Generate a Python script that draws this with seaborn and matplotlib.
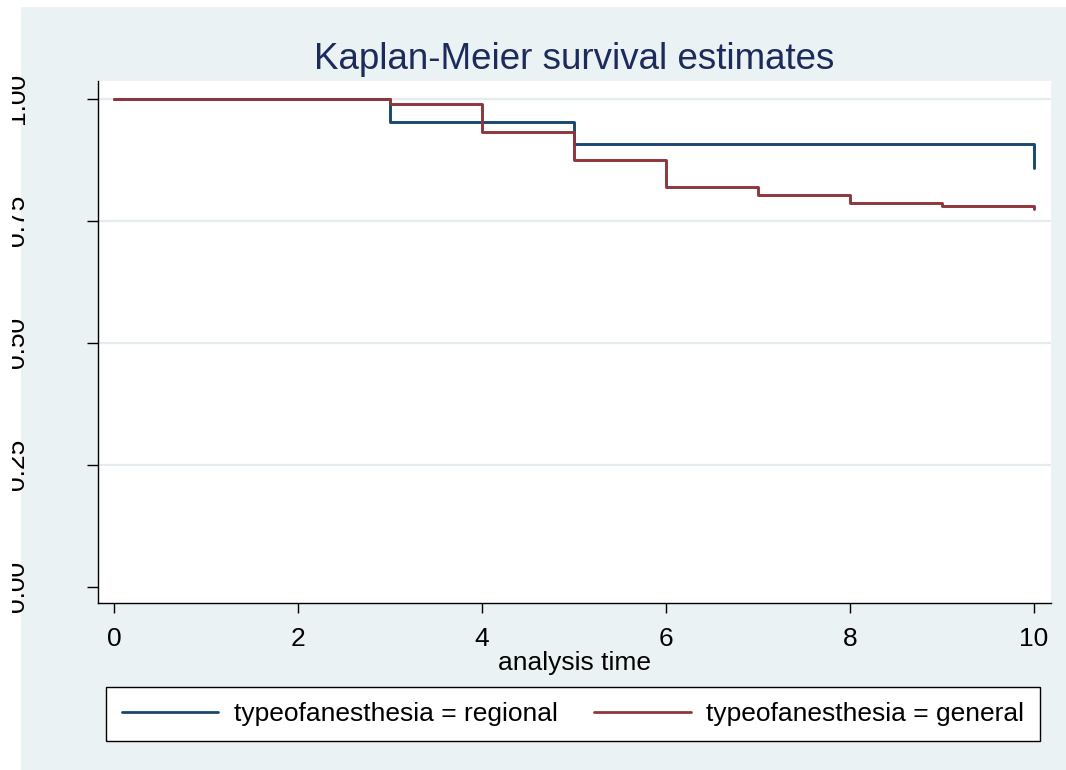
import matplotlib
matplotlib.use("Agg")
import matplotlib.pyplot as plt
from matplotlib.patches import Rectangle
import seaborn as sns
import pandas as pd

# ---- data ----
regional_time = [0, 3, 5, 10]
regional_surv = [1.000, 0.953, 0.906, 0.857]
general_time = [0, 3, 4, 5, 6, 7, 8, 9, 10]
general_surv = [1.000, 0.988, 0.931, 0.875, 0.818, 0.803, 0.786, 0.781, 0.773]
groups = ["typeofanesthesia = regional", "typeofanesthesia = general"]
x_ticks = [0, 2, 4, 6, 8, 10]
y_ticks = [0.00, 0.25, 0.50, 0.75, 1.00]
y_ticklabels = ["0.00", "0.25", "0.50", "0.75", "1.00"]
title = "Kaplan-Meier survival estimates"
xlabel = "analysis time"

df = pd.DataFrame({
    "time": regional_time + general_time,
    "surv": regional_surv + general_surv,
    "group": [groups[0]] * len(regional_time) + [groups[1]] * len(general_time),
})

sns.set_theme(style="white")
plt.rcParams["font.family"] = ["Liberation Sans", "DejaVu Sans"]

W, H = 1066, 770
fig = plt.figure(figsize=(W / 100, H / 100), dpi=100, facecolor="white")

bg = "#eaf2f3"
fig.patches.append(Rectangle((21 / W, 0), 1 - 21 / W, 1 - 7 / H,
                             transform=fig.transFigure, facecolor=bg,
                             edgecolor="none", zorder=-10))

ax_l, ax_r, ax_t, ax_b = 98, 1051, 81, 603
ax = fig.add_axes([ax_l / W, 1 - ax_b / H, (ax_r - ax_l) / W, (ax_b - ax_t) / H])
ax.set_facecolor("white")

palette = {groups[0]: "#1a476f", groups[1]: "#90353b"}
sns.lineplot(data=df, x="time", y="surv", hue="group", palette=palette,
             estimator=None, drawstyle="steps-post", linewidth=2.1,
             legend=False, ax=ax, zorder=3)

ax.set_xlim(-0.174, 10.185)
ax.set_ylim(-0.033, 1.036)
ax.set_xticks(x_ticks)
ax.set_xticklabels([str(t) for t in x_ticks])
ax.set_yticks(y_ticks)
ax.set_yticklabels(y_ticklabels, rotation=90, va="center")

for y in y_ticks[1:]:
    ax.axhline(y, color="#e4ecef", linewidth=1.6, zorder=1)

for s in ["top", "right"]:
    ax.spines[s].set_visible(False)
for s in ["left", "bottom"]:
    ax.spines[s].set_color("black")
    ax.spines[s].set_linewidth(1.0)

ax.tick_params(axis="x", direction="out", length=7, width=1.0, color="black",
               labelcolor="black", labelsize=19, pad=10, bottom=True)
ax.tick_params(axis="y", direction="out", length=8, width=1.0, color="black",
               labelcolor="black", labelsize=19, pad=41.5, left=True)

ax.set_xlabel(xlabel, fontsize=19, color="black")
ax.xaxis.label.set_va("baseline")
ax.xaxis.set_label_coords(0.5, -(670 - ax_b) / (ax_b - ax_t))
ax.set_ylabel("")

ax.set_title(title, fontsize=26.5, color="#1c2b5c", pad=0,
             y=1 + (ax_t - 69) / (ax_b - ax_t), va="baseline")

handles = ax.get_lines()[:2]
leg = ax.legend(handles, groups, loc="center", ncol=2,
                bbox_to_anchor=(573 / W, 1 - 714 / H), bbox_transform=fig.transFigure,
                fontsize=19, frameon=True, fancybox=False, handlelength=3.67,
                handletextpad=0.6, columnspacing=1.35, borderpad=0.58)
leg.get_frame().set_edgecolor("black")
leg.get_frame().set_linewidth(1.0)
leg.get_frame().set_facecolor("white")
leg.get_frame().set_alpha(1)
for t in leg.get_texts():
    t.set_color("black")
for lh in leg.get_lines():
    lh.set_linewidth(2.0)

# clip the left edge of the rotated y labels as in the reference
fig.patches.append(Rectangle((0, 0), 12 / W, 1, transform=fig.transFigure,
                             facecolor="white", edgecolor="none", zorder=10))

fig.savefig("out.png", dpi=100, facecolor="white")
